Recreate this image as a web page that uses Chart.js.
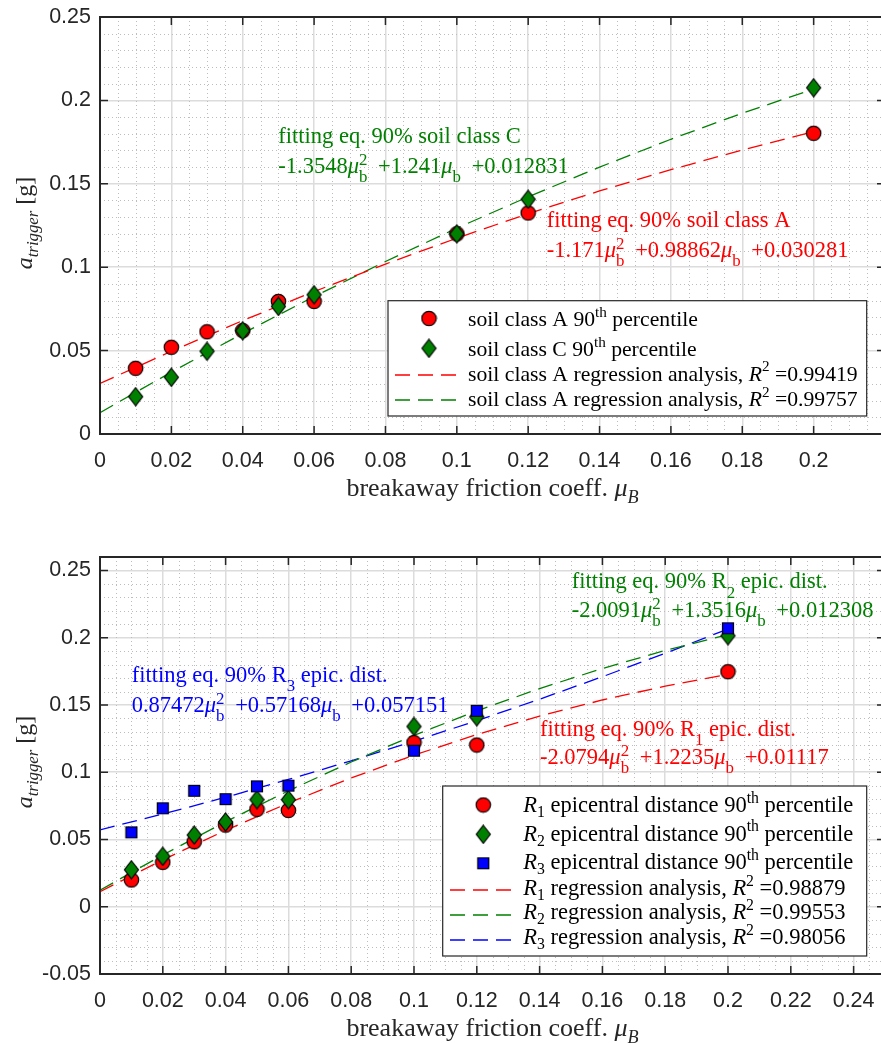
<!DOCTYPE html>
<html>
<head>
<meta charset="utf-8">
<script src="https://cdn.jsdelivr.net/npm/chart.js@4/dist/chart.umd.min.js"></script>
<style>
    html, body { margin: 0; padding: 0; background: #fff; overflow: hidden; }
    canvas { position: absolute; left: 0; }
    #topChart { top: 0; }
    #bottomChart { top: 530px; }
</style>
</head>
<body>
<canvas id="topChart" width="890" height="520"></canvas>
<canvas id="bottomChart" width="890" height="513"></canvas>
<script>
// values
const muPoints = [0.01, 0.02, 0.03, 0.04, 0.05, 0.06, 0.1, 0.12, 0.2];
const soilA90 = [0.0394, 0.052, 0.0613, 0.062, 0.0795, 0.0795, 0.12, 0.1325, 0.1803];
const soilC90 = [0.0224, 0.034, 0.0496, 0.0619, 0.0765, 0.0835, 0.12, 0.1407, 0.2076];

const muFit = [0, 0.02, 0.04, 0.06, 0.08, 0.1, 0.12, 0.14, 0.16, 0.18, 0.2];
const soilAFit = [0.0303, 0.0496, 0.0680, 0.0854, 0.1019, 0.1174, 0.1321, 0.1457, 0.1585, 0.1703, 0.1812];
const soilCFit = [0.0128, 0.0371, 0.0603, 0.0824, 0.1034, 0.1234, 0.1422, 0.1600, 0.1767, 0.1923, 0.2068];

const r1Epic90 = [0.0199, 0.033, 0.0483, 0.0607, 0.0724, 0.0716, 0.122, 0.1202, 0.1747];
const r2Epic90 = [0.0275, 0.0375, 0.0533, 0.063, 0.0796, 0.0796, 0.134, 0.1412, 0.2015];
const r3Epic90 = [0.0553, 0.0732, 0.0862, 0.080, 0.0895, 0.09, 0.116, 0.1457, 0.207];

const r1Fit = [0.0112, 0.0348, 0.0568, 0.0771, 0.0957, 0.1127, 0.1280, 0.1417, 0.1537, 0.1640, 0.1727];
const r2Fit = [0.0123, 0.0385, 0.0632, 0.0862, 0.1076, 0.1274, 0.1456, 0.1622, 0.1771, 0.1905, 0.2023];
const r3Fit = [0.0572, 0.0689, 0.0814, 0.0946, 0.1085, 0.1231, 0.1383, 0.1543, 0.1710, 0.1884, 0.2065];

// text pieces: [text, style]  style: '' | 'i' | 'sup' | 'sub' | 'isub' | 'ss' (stacked "sup|sub")
const topLegendLabels = [
    [['soil class A 90', ''], ['th', 'sup'], [' percentile', '']],
    [['soil class C 90', ''], ['th', 'sup'], [' percentile', '']],
    [['soil class A regression analysis, ', ''], ['R', 'i'], ['2', 'sup'], [' =0.99419', '']],
    [['soil class A regression analysis, ', ''], ['R', 'i'], ['2', 'sup'], [' =0.99757', '']]
];
const bottomLegendLabels = [
    [['R', 'i'], ['1', 'sub'], [' epicentral distance 90', ''], ['th', 'sup'], [' percentile', '']],
    [['R', 'i'], ['2', 'sub'], [' epicentral distance 90', ''], ['th', 'sup'], [' percentile', '']],
    [['R', 'i'], ['3', 'sub'], [' epicentral distance 90', ''], ['th', 'sup'], [' percentile', '']],
    [['R', 'i'], ['1', 'sub'], [' regression analysis, ', ''], ['R', 'i'], ['2', 'sup'], [' =0.98879', '']],
    [['R', 'i'], ['2', 'sub'], [' regression analysis, ', ''], ['R', 'i'], ['2', 'sup'], [' =0.99553', '']],
    [['R', 'i'], ['3', 'sub'], [' regression analysis, ', ''], ['R', 'i'], ['2', 'sup'], [' =0.98056', '']]
];
const noteSoilC = [[['fitting eq. 90% soil class C', '']],
    [['-1.3548', ''], ['μ', 'i'], ['2|b', 'ss'], [' +1.241', ''], ['μ', 'i'], ['|b', 'ss'], [' +0.012831', '']]];
const noteSoilA = [[['fitting eq. 90% soil class A', '']],
    [['-1.171', ''], ['μ', 'i'], ['2|b', 'ss'], [' +0.98862', ''], ['μ', 'i'], ['|b', 'ss'], [' +0.030281', '']]];
const noteR3 = [[['fitting eq. 90% R', ''], ['3', 'sub'], [' epic. dist.', '']],
    [['0.87472', ''], ['μ', 'i'], ['2|b', 'ss'], [' +0.57168', ''], ['μ', 'i'], ['|b', 'ss'], [' +0.057151', '']]];
const noteR2 = [[['fitting eq. 90% R', ''], ['2', 'sub'], [' epic. dist.', '']],
    [['-2.0091', ''], ['μ', 'i'], ['2|b', 'ss'], [' +1.3516', ''], ['μ', 'i'], ['|b', 'ss'], [' +0.012308', '']]];
const noteR1 = [[['fitting eq. 90% R', ''], ['1', 'sub'], [' epic. dist.', '']],
    [['-2.0794', ''], ['μ', 'i'], ['2|b', 'ss'], [' +1.2235', ''], ['μ', 'i'], ['|b', 'ss'], [' +0.01117', '']]];
const xTitle = [['breakaway friction coeff. ', ''], ['μ', 'i'], ['B', 'isub']];
const yTitle = [['a', 'i'], ['trigger', 'isub'], [' [g]', '']];

const RED = '#ff0000', GREEN = '#008000', BLUE = '#0000ff';
const INK = '#262626';
const SERIF = '"Liberation Serif", "Times New Roman", serif';
const SANS = '"Liberation Sans", Arial, sans-serif';

// markers as little canvases (MATLAB style, black edge)
function makeMarker(kind, fill) {
    const c = document.createElement('canvas');
    const w = kind == 'diamond' ? 17 : (kind == 'square' ? 14 : 17);
    const h = kind == 'diamond' ? 20 : w;
    c.width = w; c.height = h;
    const g = c.getContext('2d');
    g.fillStyle = fill;
    g.strokeStyle = '#000';
    g.lineWidth = 1.2;
    g.beginPath();
    if (kind == 'circle') {
        g.arc(w / 2, h / 2, 7.2, 0, Math.PI * 2);
    } else if (kind == 'diamond') {
        g.moveTo(w / 2, 1); g.lineTo(w - 1.5, h / 2); g.lineTo(w / 2, h - 1); g.lineTo(1.5, h / 2); g.closePath();
    } else {
        g.rect(1.5, 1.5, w - 3, h - 3);
    }
    g.fill();
    g.stroke();
    return c;
}
const redCircle = makeMarker('circle', RED);
const greenDiamond = makeMarker('diamond', GREEN);
const blueSquare = makeMarker('square', BLUE);

function pts(xs, ys) {
    return xs.map((x, i) => ({x: x, y: ys[i]}));
}

function markerSet(label, ys, marker, order) {
    return {label: label, data: pts(muPoints, ys), pointStyle: marker, pointRadius: 8, showLine: false, order: order};
}

function fitSet(label, ys, color, order) {
    return {
        label: label, data: pts(muFit, ys), showLine: true, borderColor: color, borderWidth: 1.3,
        borderDash: [15, 8], pointRadius: 0, fill: false, tension: 0, order: order
    };
}

// rich text with italic / sup / sub pieces
function partFont(style, size, small) {
    const isSmall = style == 'sup' || style == 'sub' || style == 'isub' || style == 'ss';
    const italic = style == 'i' || style == 'isub';
    return (italic ? 'italic ' : '') + (isSmall ? size * small : size) + 'px ' + SERIF;
}
function partWidth(ctx, p, size, offs) {
    ctx.font = partFont(p[1], size, offs.small);
    if (p[1] == 'ss') return Math.max(...p[0].split('|').map(s => ctx.measureText(s).width)) + offs.pad;
    return ctx.measureText(p[0]).width;
}
function drawRich(ctx, parts, x, y, size, color, align, offs) {
    const total = parts.reduce((s, p) => s + partWidth(ctx, p, size, offs), 0);
    if (align == 'center') x -= total / 2;
    ctx.fillStyle = color;
    ctx.textAlign = 'left';
    ctx.textBaseline = 'alphabetic';
    parts.forEach(p => {
        const w = partWidth(ctx, p, size, offs);
        if (p[1] == 'ss') {
            const s = p[0].split('|');
            if (s[0]) ctx.fillText(s[0], x, y - size * offs.sup);
            ctx.fillText(s[1], x, y + size * offs.sub);
        } else {
            let dy = 0;
            if (p[1] == 'sup') dy = -size * offs.sup;
            if (p[1] == 'sub' || p[1] == 'isub') dy = size * offs.sub;
            ctx.fillText(p[0], x, y + dy);
        }
        x += w;
    });
}
const NOTE_OFFS = {sup: 0.36, sub: 0.42, small: 0.75, pad: 5};
const LEGEND_OFFS = {sup: 0.42, sub: 0.22, small: 0.7, pad: 0};
const TITLE_OFFS = {sup: 0.4, sub: 0.25, small: 0.7, pad: 0};

// MATLAB look: minor dotted grid, box, inner ticks, legend, notes, axis titles
const matlabPlugin = {
    id: 'matlab',
    beforeDatasetsDraw(chart, args, o) {
        const ctx = chart.ctx, a = chart.chartArea, xs = chart.scales.x, ys = chart.scales.y;
        ctx.save();
        ctx.strokeStyle = '#bdbdbd';
        ctx.lineWidth = 1;
        ctx.setLineDash([1, 3]);
        for (let i = 0; ; i++) {
            const v = xs.min + i * o.xMinor;
            if (v > xs.max + 1e-9) break;
            if (Math.abs(v / 0.02 - Math.round(v / 0.02)) < 1e-6) continue;
            const px = Math.round(xs.getPixelForValue(v)) + 0.5;
            ctx.beginPath(); ctx.moveTo(px, a.top); ctx.lineTo(px, a.bottom); ctx.stroke();
        }
        for (let i = 0; ; i++) {
            const v = ys.min + i * o.yMinor;
            if (v > ys.max + 1e-9) break;
            if (Math.abs(v / 0.05 - Math.round(v / 0.05)) < 1e-6) continue;
            const py = Math.round(ys.getPixelForValue(v)) + 0.5;
            ctx.beginPath(); ctx.moveTo(a.left, py); ctx.lineTo(a.right, py); ctx.stroke();
        }
        ctx.restore();
    },
    afterDraw(chart, args, o) {
        const ctx = chart.ctx, a = chart.chartArea, xs = chart.scales.x, ys = chart.scales.y;
        ctx.save();
        // inner tick marks on all four sides
        ctx.strokeStyle = INK;
        ctx.lineWidth = 1.5;
        xs.ticks.forEach(t => {
            const px = xs.getPixelForValue(t.value);
            ctx.beginPath(); ctx.moveTo(px, a.bottom); ctx.lineTo(px, a.bottom - 8);
            ctx.moveTo(px, a.top); ctx.lineTo(px, a.top + 8); ctx.stroke();
        });
        ys.ticks.forEach(t => {
            const py = ys.getPixelForValue(t.value);
            ctx.beginPath(); ctx.moveTo(a.left, py); ctx.lineTo(a.left + 8, py);
            ctx.moveTo(a.right, py); ctx.lineTo(a.right - 8, py); ctx.stroke();
        });
        ctx.lineWidth = 2;
        ctx.strokeRect(a.left, a.top, a.right - a.left, a.bottom - a.top);

        // fitting equations
        o.notes.forEach(n => {
            n.lines.forEach((ln, i) => drawRich(ctx, ln, n.x, n.y + i * n.gap, 22.5, n.color, 'left', NOTE_OFFS));
        });

        // legend
        const L = o.legend;
        ctx.fillStyle = '#fff';
        ctx.fillRect(L.box[0], L.box[1], L.box[2] - L.box[0], L.box[3] - L.box[1]);
        ctx.strokeStyle = INK;
        ctx.lineWidth = 1.2;
        ctx.strokeRect(L.box[0], L.box[1], L.box[2] - L.box[0], L.box[3] - L.box[1]);
        L.rows.forEach((r, i) => {
            if (r.marker) {
                ctx.drawImage(r.marker, L.markerX - r.marker.width / 2, r.y - r.marker.height / 2);
            } else {
                ctx.save();
                ctx.strokeStyle = r.color;
                ctx.lineWidth = 1.3;
                ctx.setLineDash([15, 8]);
                ctx.beginPath(); ctx.moveTo(L.lineX[0], r.y); ctx.lineTo(L.lineX[1], r.y); ctx.stroke();
                ctx.restore();
            }
            drawRich(ctx, L.labels[i], L.textX, r.base, L.size, '#000', 'left', LEGEND_OFFS);
        });

        // axis titles
        drawRich(ctx, xTitle, o.xTitle[0], o.xTitle[1], 26, INK, 'center', TITLE_OFFS);
        ctx.translate(o.yTitle[0], o.yTitle[1]);
        ctx.rotate(-Math.PI / 2);
        drawRich(ctx, yTitle, 0, 0, 24, INK, 'center', TITLE_OFFS);
        ctx.restore();
    }
};

function tickText(v) {
    return String(Number(v.toFixed(4)));
}

function buildScales(xMax, xLabelMax, yMin, yMax, xHeight) {
    const font = {family: SANS, size: 21.5};
    return {
        x: {
            type: 'linear', min: 0, max: xMax,
            ticks: {
                stepSize: 0.02, includeBounds: false, autoSkip: false, maxRotation: 0, padding: 14,
                color: INK, font: font,
                callback: v => v > xLabelMax + 1e-6 ? '' : tickText(v)
            },
            grid: {color: '#dcdcdc', lineWidth: 1.5, drawTicks: false},
            border: {display: false},
            afterFit: s => { s.height = xHeight; s.paddingLeft = 0; s.paddingRight = 0; }
        },
        y: {
            type: 'linear', min: yMin, max: yMax,
            ticks: {stepSize: 0.05, includeBounds: false, padding: 9, color: INK, font: font, callback: v => tickText(v)},
            grid: {color: '#dcdcdc', lineWidth: 1.5, drawTicks: false},
            border: {display: false},
            afterFit: s => { s.width = 100; s.paddingTop = 0; s.paddingBottom = 0; }
        }
    };
}

function baseOptions(scales, padTop, matlab) {
    return {
        responsive: false,
        animation: false,
        layout: {autoPadding: false, padding: {top: padTop, right: 5, left: 0, bottom: 0}},
        scales: scales,
        plugins: {legend: {display: false}, tooltip: {enabled: false}, title: {display: false}, matlab: matlab}
    };
}

// top chart: soil classes
new Chart(document.getElementById('topChart'), {
    type: 'scatter',
    data: {
        datasets: [
            markerSet('soil class C 90th percentile', soilC90, greenDiamond, 1),
            markerSet('soil class A 90th percentile', soilA90, redCircle, 2),
            fitSet('soil class A regression', soilAFit, RED, 3),
            fitSet('soil class C regression', soilCFit, GREEN, 4)
        ]
    },
    options: baseOptions(buildScales(0.22, 0.2, 0, 0.25, 86), 17, {
        xMinor: 0.005, yMinor: 0.01,
        xTitle: [492.5, 496], yTitle: [32, 223],
        notes: [
            {lines: noteSoilC, x: 278.3, y: 143, gap: 30, color: GREEN},
            {lines: noteSoilA, x: 546.7, y: 227, gap: 30, color: RED}
        ],
        legend: {
            box: [388, 300.7, 866.7, 416], markerX: 429, lineX: [395, 461.7], textX: 468, size: 21.7,
            labels: topLegendLabels,
            rows: [
                {marker: redCircle, y: 318.5, base: 325.7},
                {marker: greenDiamond, y: 348.3, base: 355.7},
                {color: RED, y: 375, base: 380.5},
                {color: GREEN, y: 400, base: 405.7}
            ]
        }
    }),
    plugins: [matlabPlugin]
});

// bottom chart: epicentral distances
new Chart(document.getElementById('bottomChart'), {
    type: 'scatter',
    data: {
        datasets: [
            markerSet('R3 epicentral distance 90th percentile', r3Epic90, blueSquare, 1),
            markerSet('R2 epicentral distance 90th percentile', r2Epic90, greenDiamond, 2),
            markerSet('R1 epicentral distance 90th percentile', r1Epic90, redCircle, 3),
            fitSet('R1 regression', r1Fit, RED, 4),
            fitSet('R2 regression', r2Fit, GREEN, 5),
            fitSet('R3 regression', r3Fit, BLUE, 6)
        ]
    },
    options: baseOptions(buildScales(0.25, 0.24, -0.05, 0.26, 69), 27, {
        xMinor: 0.005, yMinor: 0.01,
        xTitle: [492.5, 506], yTitle: [32, 232],
        notes: [
            {lines: noteR3, x: 131.7, y: 151.7, gap: 30, color: BLUE},
            {lines: noteR2, x: 571.7, y: 58.3, gap: 28.4, color: GREEN},
            {lines: noteR1, x: 540, y: 206, gap: 28, color: RED}
        ],
        legend: {
            box: [442.7, 256, 866.7, 426], markerX: 483.3, lineX: [450, 516.7], textX: 523.3, size: 22.5,
            labels: bottomLegendLabels,
            rows: [
                {marker: redCircle, y: 275, base: 282},
                {marker: greenDiamond, y: 304.3, base: 310.7},
                {marker: blueSquare, y: 333.3, base: 339.3},
                {color: RED, y: 360, base: 365},
                {color: GREEN, y: 385, base: 389.3},
                {color: BLUE, y: 410, base: 414.3}
            ]
        }
    }),
    plugins: [matlabPlugin]
});
</script>
</body>
</html>
